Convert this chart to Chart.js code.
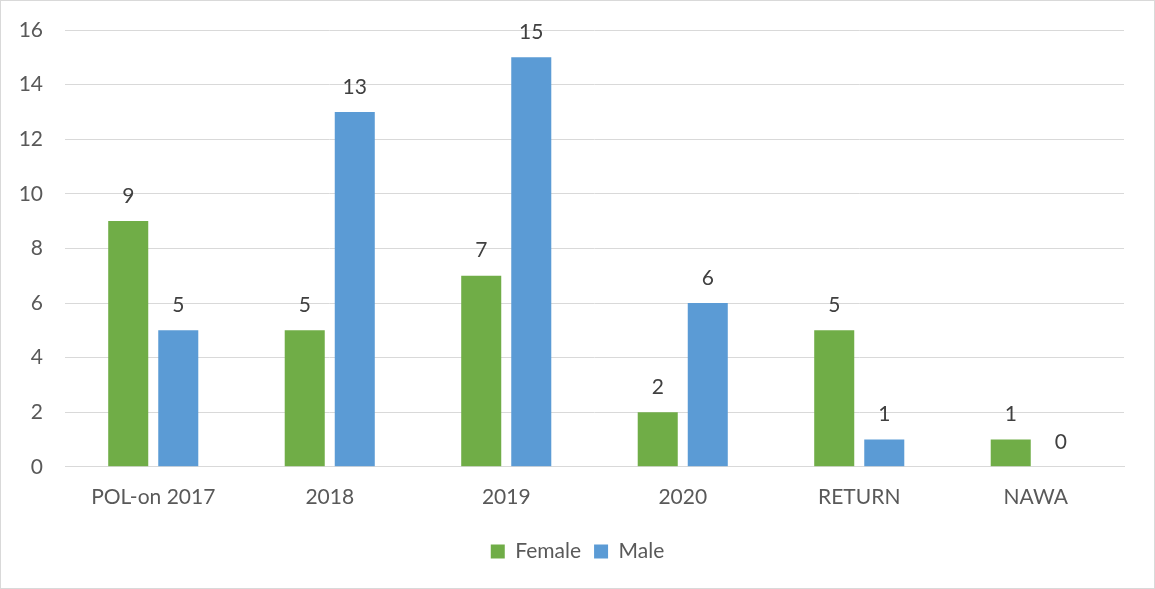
<!DOCTYPE html>
<html><head><meta charset="utf-8">
<script src="https://cdn.jsdelivr.net/npm/chart.js@4/dist/chart.umd.min.js"></script>
<style>html,body{margin:0;padding:0;background:#fff;}#wrap{width:1155px;height:589px;position:relative;}</style>
</head><body><div id="wrap"><canvas id="c" width="1155" height="589"></canvas></div>
<script>
const categories = ["POL-on 2017", "2018", "2019", "2020", "RETURN", "NAWA"];
const femaleValues = [9, 5, 7, 2, 5, 1];
const maleValues = [5, 13, 15, 6, 1, 0];
const yTicks = [0, 2, 4, 6, 8, 10, 12, 14, 16];

const FONT = "Lato, 'Open Sans', sans-serif";
const TXT = "#595959";
const FS = 21;

const borderPlugin = {
  id: 'border',
  afterDraw(chart) {
    const ctx = chart.ctx;
    ctx.save();
    ctx.strokeStyle = '#d9d9d9';
    ctx.lineWidth = 1;
    ctx.strokeRect(0.5, 0.5, chart.width - 1, chart.height - 1);
    ctx.restore();
  }
};
const labelPlugin = {
  id: 'vals',
  afterDatasetsDraw(chart) {
    const ctx = chart.ctx;
    ctx.save();
    ctx.font = FS + "px " + FONT;
    ctx.fillStyle = "#404040";
    ctx.textAlign = 'center';
    ctx.textBaseline = 'middle';
    chart.data.datasets.forEach((ds, i) => {
      chart.getDatasetMeta(i).data.forEach((bar, j) => {
        ctx.fillText(String(ds.data[j]), bar.x, bar.y - 25);
      });
    });
    ctx.restore();
  }
};

new Chart(document.getElementById('c'), {
  type: 'bar',
  data: {
    labels: categories,
    datasets: [
      { label: 'Female', data: femaleValues, backgroundColor: '#70ad47', categoryPercentage: 0.567, barPercentage: 0.8 },
      { label: 'Male', data: maleValues, backgroundColor: '#5b9bd5', categoryPercentage: 0.567, barPercentage: 0.8 }
    ]
  },
  options: {
    responsive: false,
    animation: false,
    layout: { padding: { left: 0, right: 0, top: 30, bottom: 17 } },
    plugins: {
      legend: {
        position: 'bottom',
        labels: { font: { family: FONT, size: FS }, color: TXT, boxWidth: 14, boxHeight: 14, padding: 13 }
      },
      tooltip: { enabled: false }
    },
    scales: {
      x: {
        grid: { display: false, drawTicks: false },
        border: { display: true, color: '#d9d9d9' },
        ticks: { font: { family: FONT, size: FS }, color: TXT, padding: 18, maxRotation: 0 }
      },
      y: {
        min: 0, max: 16,
        afterBuildTicks(scale) { scale.ticks = yTicks.map(v => ({ value: v })); },
        afterFit(scale) { scale.width = 65; scale.paddingTop = 0; scale.paddingBottom = 0; },
        grid: { color: '#d9d9d9', drawTicks: false },
        border: { display: false },
        ticks: { font: { family: FONT, size: FS }, color: TXT, padding: 22 }
      },
      y2: {
        position: 'right',
        min: 0, max: 16,
        afterFit(scale) { scale.width = 31; scale.paddingTop = 0; scale.paddingBottom = 0; },
        grid: { display: false, drawTicks: false },
        border: { display: false },
        ticks: { display: false }
      }
    }
  },
  plugins: [borderPlugin, labelPlugin]
});
</script></body></html>
